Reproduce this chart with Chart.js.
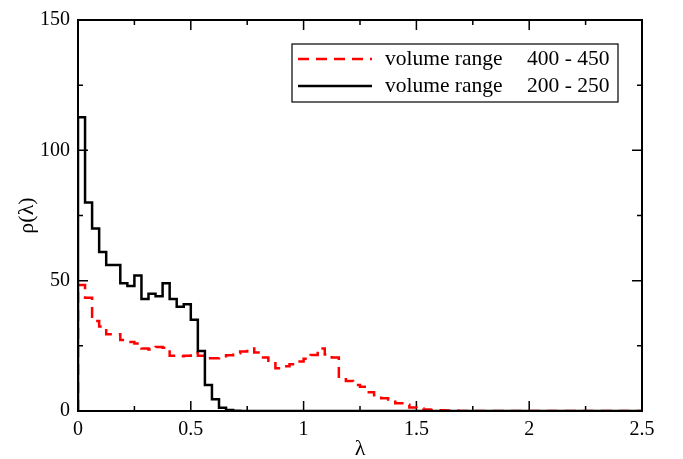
<!DOCTYPE html>
<html>
<head>
<meta charset="utf-8">
<script src="https://cdn.jsdelivr.net/npm/chart.js@4.4.0/dist/chart.umd.min.js"></script>
<style>
  html, body { margin: 0; padding: 0; background: #fff; }
  #wrap { width: 683px; height: 459px; }
</style>
</head>
<body>
<div id="wrap"><canvas id="rho" width="683" height="459"></canvas></div>
<script>
// histogram bins of width 0.03125 starting at lambda = 0
var binWidth = 0.03125;
var xMax = 2.5;
var yMax = 150;

// rho(lambda), volume range 400 - 450 (red dashed)
var vol400 = [48.3, 43.4, 34.5, 32.4, 29.4, 29.4, 27.2, 26.5, 25.9, 24, 23.6, 24.6, 24.3,
  21.2, 21, 21.2, 22.3, 21.2, 20.2, 20.2, 21, 21.4, 22.2, 22.8, 24, 22.4, 20.5, 18.3,
  16.4, 17.2, 17.9, 19, 20, 21.5, 24, 21.7, 20.5, 12.2, 11.5, 10, 9.3, 7.2, 6, 4.9,
  4.4, 3.0, 2.4, 1.3, 1.0, 0.6, 0.4, 0.3, 0.2, 0.1];

// rho(lambda), volume range 200 - 250 (black solid)
var vol200 = [112.7, 80, 70, 61, 56, 56, 49, 48, 52, 43, 45, 44, 49, 43, 40, 41, 35,
  23, 10, 4.5, 1.2, 0.4, 0.1];

var legendNames = ['volume range', 'volume range'];
var legendRanges = ['400 - 450', '200 - 250'];

var serif = '"Liberation Serif", "DejaVu Serif", serif';

function histPoints(counts) {
  var pts = [{ x: 0, y: 0 }];
  for (var i = 0; i < counts.length; i++) {
    pts.push({ x: i * binWidth, y: counts[i] });
  }
  pts.push({ x: counts.length * binWidth, y: 0 });
  pts.push({ x: xMax, y: 0 });
  return pts;
}

// box round the plot + inward ticks on all four sides (xmgrace look)
var frameTicks = {
  id: 'frameTicks',
  beforeDatasetsDraw: function (chart) {
    var ctx = chart.ctx, a = chart.chartArea;
    var xs = chart.scales.x, ys = chart.scales.y;
    function marks(scale) {
      var v = scale.ticks.map(function (t) { return t.value; });
      var out = [];
      for (var i = 0; i < v.length; i++) {
        out.push({ v: v[i], len: 10 });
        if (i < v.length - 1) out.push({ v: (v[i] + v[i + 1]) / 2, len: 5 });
      }
      return out;
    }
    ctx.save();
    ctx.strokeStyle = '#000';
    ctx.lineWidth = 2;
    ctx.strokeRect(a.left, a.top, a.right - a.left, a.bottom - a.top);
    ctx.lineWidth = 1.5;
    ctx.beginPath();
    marks(xs).forEach(function (m) {
      var px = xs.getPixelForValue(m.v);
      ctx.moveTo(px, a.bottom); ctx.lineTo(px, a.bottom - m.len);
      ctx.moveTo(px, a.top); ctx.lineTo(px, a.top + m.len);
    });
    marks(ys).forEach(function (m) {
      var py = ys.getPixelForValue(m.v);
      ctx.moveTo(a.left, py); ctx.lineTo(a.left + m.len, py);
      ctx.moveTo(a.right, py); ctx.lineTo(a.right - m.len, py);
    });
    ctx.stroke();
    ctx.restore();
  }
};

var boxLegend = {
  id: 'boxLegend',
  afterDatasetsDraw: function (chart) {
    var ctx = chart.ctx;
    var ds = chart.data.datasets;
    var rows = [59, 86];
    ctx.save();
    ctx.fillStyle = '#fff';
    ctx.fillRect(292, 44, 326, 58);
    ctx.strokeStyle = '#000';
    ctx.lineWidth = 1.2;
    ctx.strokeRect(292, 44, 326, 58);
    ctx.font = '21.5px ' + serif;
    ctx.textBaseline = 'middle';
    for (var i = 0; i < ds.length; i++) {
      ctx.beginPath();
      ctx.strokeStyle = ds[i].borderColor;
      ctx.lineWidth = ds[i].borderWidth;
      ctx.setLineDash(ds[i].borderDash || []);
      ctx.moveTo(298, rows[i]);
      ctx.lineTo(372, rows[i]);
      ctx.stroke();
      ctx.setLineDash([]);
      ctx.fillStyle = '#000';
      ctx.fillText(legendNames[i], 385, rows[i]);
      ctx.fillText(legendRanges[i], 527, rows[i]);
    }
    ctx.restore();
  }
};

var ctx = document.getElementById('rho').getContext('2d');
var rhoChart = new Chart(ctx, {
  type: 'line',
  data: {
    datasets: [{
      label: legendNames[0] + ' ' + legendRanges[0],
      data: histPoints(vol400),
      borderColor: '#ff0000',
      borderWidth: 2.5,
      borderDash: [11, 7],
      stepped: true,
      pointRadius: 0,
      fill: false,
      order: 1
    }, {
      label: legendNames[1] + ' ' + legendRanges[1],
      data: histPoints(vol200),
      borderColor: '#000000',
      borderWidth: 2.5,
      stepped: true,
      pointRadius: 0,
      fill: false,
      order: 0
    }]
  },
  options: {
    responsive: false,
    animation: false,
    layout: { padding: { left: 0, right: 41, top: 17, bottom: 0 } },
    plugins: { legend: { display: false }, tooltip: { enabled: false } },
    scales: {
      x: {
        type: 'linear',
        min: 0,
        max: xMax,
        afterFit: function (s) { s.height = 48; },
        grid: { display: false, drawTicks: false },
        border: { display: false },
        ticks: {
          stepSize: 0.5, color: '#000', padding: 7, maxRotation: 0,
          font: { family: serif, size: 20 },
          callback: function (v) { return String(v); }
        },
        title: { display: true, text: 'λ', color: '#000', font: { family: serif, size: 22 }, padding: { top: 0, bottom: -3 } }
      },
      y: {
        type: 'linear',
        min: 0,
        max: yMax,
        afterFit: function (s) { s.width = 78; },
        grid: { display: false, drawTicks: false },
        border: { display: false },
        ticks: { stepSize: 50, color: '#000', padding: 8, font: { family: serif, size: 20 } },
        title: { display: true, text: 'ρ(λ)', color: '#000', font: { family: serif, size: 22 }, padding: { top: 14, bottom: 0 } }
      }
    }
  },
  plugins: [frameTicks, boxLegend]
});
</script>
</body>
</html>
